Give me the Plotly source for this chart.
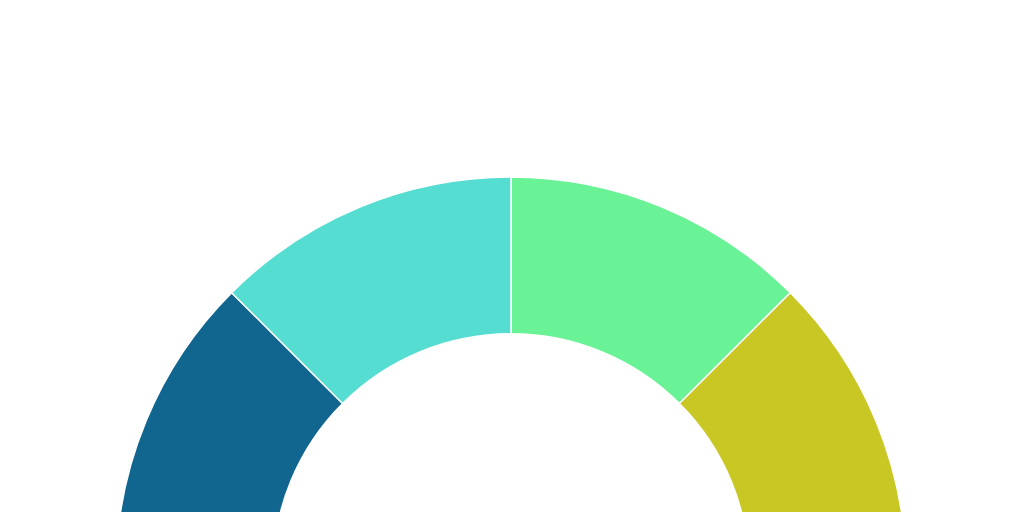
import plotly.graph_objects as go

# gauge bands, clockwise from 12 o'clock; the bottom half is a blank filler
labels = ["band 3", "band 4", "filler", "band 1", "band 2"]
values = [1, 1, 4, 1, 1]
colors = ["#6af296", "#c8c724", "rgba(0,0,0,0)", "#10668f", "#55ddd2"]

fig = go.Figure(go.Pie(
    labels=labels,
    values=values,
    hole=0.603,
    sort=False,
    direction="clockwise",
    rotation=0,
    textinfo="none",
    hoverinfo="none",
    marker=dict(colors=colors, line=dict(color="white", width=1.5)),
    showlegend=False,
))

fig.update_layout(
    width=1024,
    height=967,
    margin=dict(l=0, r=2, t=177, b=0),
    paper_bgcolor="white",
    plot_bgcolor="white",
)

fig.write_html(
    "out.html",
    config={"displayModeBar": False},
    post_script="document.body.style.margin='0';document.body.style.overflow='hidden';"
                "document.documentElement.style.overflow='hidden';",
)
